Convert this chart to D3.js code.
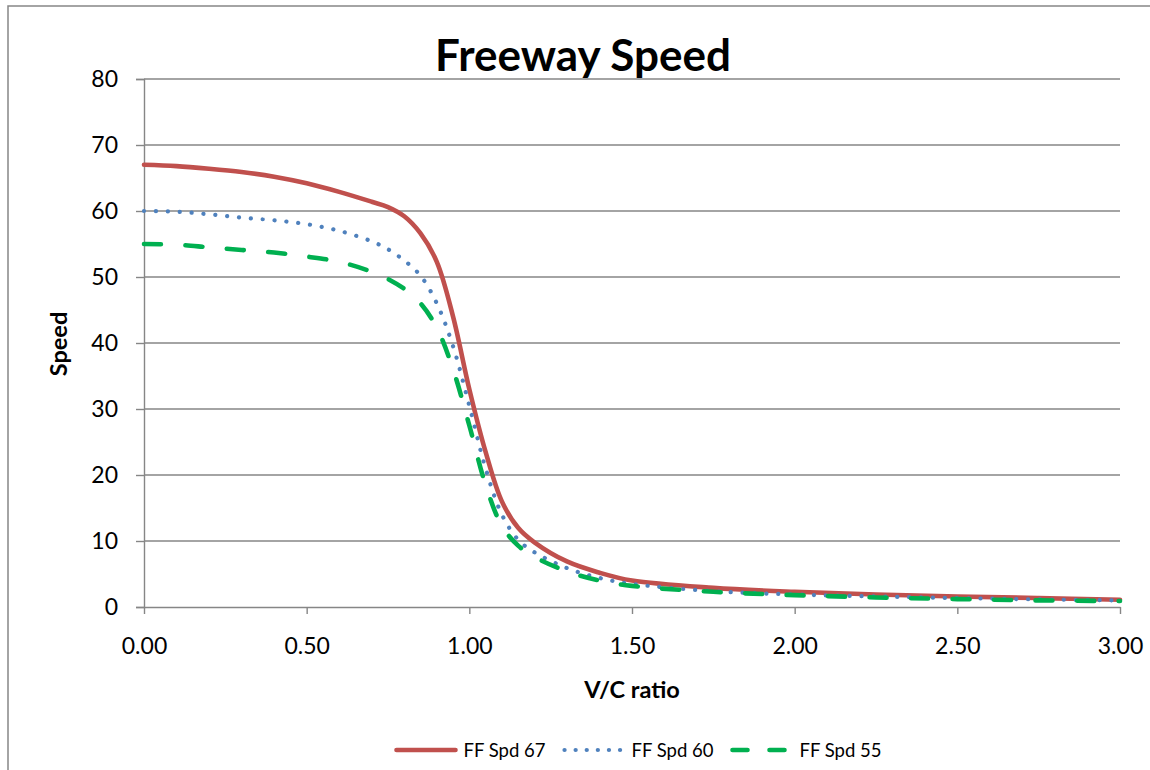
<!DOCTYPE html>
<html>
<head>
<meta charset="utf-8">
<script src="https://cdn.jsdelivr.net/npm/d3@7"></script>
<style>
  html, body { margin: 0; padding: 0; background: #fff; }
  svg { display: block; font-family: Lato, "Open Sans", sans-serif; }
</style>
</head>
<body>
<div id="chart"></div>
<script>
// V/C ratio (x) and speeds for each free-flow speed curve
const vcRatio = [0, 0.1, 0.2, 0.3, 0.4, 0.5, 0.6, 0.7, 0.75, 0.8, 0.85, 0.9, 0.95, 1.0, 1.05, 1.1, 1.15, 1.2, 1.3, 1.4, 1.5, 1.75, 2.0, 2.25, 2.5, 2.75, 3.0]
const spd67 = [67.0, 66.8, 66.4, 65.9, 65.2, 64.2, 62.9, 61.4, 60.6, 59.2, 56.6, 52.3, 44.0, 33.0, 23.5, 16.0, 12.0, 9.8, 6.9, 5.2, 4.0, 2.9, 2.3, 1.9, 1.6, 1.35, 1.1]
const spd60 = [60.0, 59.9, 59.5, 59.0, 58.6, 58.0, 57.0, 55.4, 54.2, 52.5, 50.2, 46.0, 39.5, 30.5, 21.0, 14.0, 10.2, 8.3, 5.9, 4.4, 3.5, 2.4, 1.9, 1.6, 1.35, 1.15, 1.0]
const spd55 = [55.0, 54.9, 54.5, 54.1, 53.7, 53.1, 52.3, 50.8, 49.7, 48.2, 46.0, 42.3, 36.0, 27.5, 18.5, 12.3, 9.3, 7.6, 5.4, 4.0, 3.2, 2.3, 1.8, 1.45, 1.2, 1.0, 0.9]
const seriesNames = ['FF Spd 67', 'FF Spd 60', 'FF Spd 55']
const yTicks = [0, 10, 20, 30, 40, 50, 60, 70, 80]
const xTicks = [0, 0.5, 1.0, 1.5, 2.0, 2.5, 3.0]

const width = 1150, height = 770
const plot = {left: 144, right: 1120, top: 79, bottom: 607}
const gridColor = '#868686'

const styles = [
  {color: '#C0504D', dash: null},
  {color: '#4F81BD', dash: '0.1 11.8'},
  {color: '#00B050', dash: '17 24.5'}
]

const series = [spd67, spd60, spd55].map((vals, i) => ({
  name: seriesNames[i],
  values: vals.map((v, j) => ({x: vcRatio[j], y: v}))
}))

const svg = d3.select('#chart').append('svg')
  .attr('width', width)
  .attr('height', height)

// chart area border (only top and left are inside the picture)
svg.append('rect')
  .attr('x', 8).attr('y', 6)
  .attr('width', 1200).attr('height', 800)
  .attr('fill', 'none')
  .attr('stroke', gridColor)
  .attr('stroke-width', 1.5)

const xScale = d3.scaleLinear().domain([0, 3]).range([plot.left, plot.right])
const yScale = d3.scaleLinear().domain([0, 80]).range([plot.bottom, plot.top])

// horizontal gridlines
svg.append('g').selectAll('line')
  .data(yTicks.filter(d => d > 0))
  .enter().append('line')
  .attr('x1', plot.left).attr('x2', plot.right)
  .attr('y1', d => yScale(d)).attr('y2', d => yScale(d))
  .attr('stroke', gridColor)
  .attr('stroke-width', 1.4)

// y axis
const yAxis = d3.axisLeft(yScale)
  .tickValues(yTicks)
  .tickSize(8)
  .tickPadding(18)
  .tickFormat(d3.format('d'))
const gy = svg.append('g')
  .attr('transform', `translate(${plot.left}, 0)`)
  .call(yAxis)
gy.select('.domain').attr('stroke', gridColor).attr('stroke-width', 1.4)
gy.selectAll('.tick line').attr('stroke', gridColor).attr('stroke-width', 1.4)
gy.selectAll('.tick text')
  .attr('font-family', 'Lato, sans-serif')
  .attr('font-size', 23)
  .attr('fill', '#000')

// x axis
const xAxis = d3.axisBottom(xScale)
  .tickValues(xTicks)
  .tickSize(7)
  .tickSizeOuter(0)
  .tickPadding(24)
  .tickFormat(d3.format('.2f'))
const gx = svg.append('g')
  .attr('transform', `translate(0, ${plot.bottom})`)
  .call(xAxis)
gx.select('.domain').attr('stroke', gridColor).attr('stroke-width', 1.4)
gx.selectAll('.tick line').attr('stroke', gridColor).attr('stroke-width', 1.4)
gx.selectAll('.tick text')
  .attr('font-family', 'Lato, sans-serif')
  .attr('font-size', 23)
  .attr('fill', '#000')

// curves
const line = d3.line()
  .x(d => xScale(d.x))
  .y(d => yScale(d.y))
  .curve(d3.curveCatmullRom.alpha(0.5))

svg.append('g').selectAll('path')
  .data(series)
  .enter().append('path')
  .attr('d', d => line(d.values))
  .attr('fill', 'none')
  .attr('stroke', (d, i) => styles[i].color)
  .attr('stroke-width', (d, i) => i === 1 ? 4.2 : 4.6)
  .attr('stroke-linecap', 'round')
  .attr('stroke-linejoin', 'round')
  .attr('stroke-dasharray', (d, i) => styles[i].dash)

// title and axis titles
svg.append('text')
  .attr('x', 583).attr('y', 71)
  .attr('text-anchor', 'middle')
  .attr('font-size', 44)
  .attr('font-weight', 'bold')
  .text('Freeway Speed')

svg.append('text')
  .attr('transform', 'translate(67, 344) rotate(-90)')
  .attr('text-anchor', 'middle')
  .attr('font-size', 23.5)
  .attr('font-weight', 'bold')
  .text('Speed')

svg.append('text')
  .attr('x', 632).attr('y', 698)
  .attr('text-anchor', 'middle')
  .attr('font-size', 23.5)
  .attr('font-weight', 'bold')
  .text('V/C ratio')

// legend
const legend = svg.append('g')
const swatchW = 63, textGap = 6, itemGap = 17, legendY = 750
const items = legend.selectAll('g')
  .data(series)
  .enter().append('g')
items.append('text')
  .attr('font-size', 18.5)
  .attr('y', legendY + 7)
  .text(d => d.name)
const textW = []
items.selectAll('text').each(function () { textW.push(this.getComputedTextLength()) })
const totalW = d3.sum(textW) + series.length * (swatchW + textGap) + (series.length - 1) * itemGap
let cursor = 638 - totalW / 2
items.each(function (d, i) {
  const g = d3.select(this)
  g.append('line')
    .attr('x1', cursor + 2).attr('x2', cursor + swatchW - 2)
    .attr('y1', legendY).attr('y2', legendY)
    .attr('stroke', styles[i].color)
    .attr('stroke-width', i === 1 ? 4.2 : 4.6)
    .attr('stroke-linecap', 'round')
    .attr('stroke-dasharray', i === 1 ? '0.1 11' : i === 2 ? '15 22' : null)
  g.select('text').attr('x', cursor + swatchW + textGap)
  cursor += swatchW + textGap + textW[i] + itemGap
})
</script>
</body>
</html>
